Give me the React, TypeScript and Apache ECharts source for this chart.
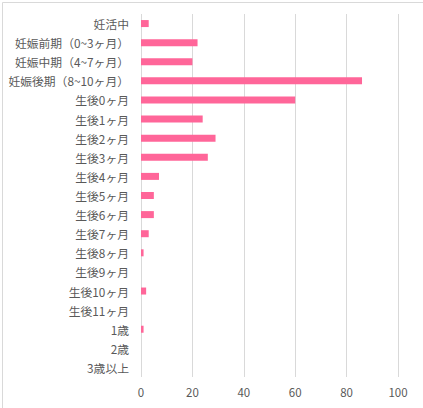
import React, { useEffect, useRef } from "react";
import * as echarts from "echarts";

const categories = [
  "妊活中",
  "妊娠前期（0~3ヶ月）",
  "妊娠中期（4~7ヶ月）",
  "妊娠後期（8~10ヶ月）",
  "生後0ヶ月",
  "生後1ヶ月",
  "生後2ヶ月",
  "生後3ヶ月",
  "生後4ヶ月",
  "生後5ヶ月",
  "生後6ヶ月",
  "生後7ヶ月",
  "生後8ヶ月",
  "生後9ヶ月",
  "生後10ヶ月",
  "生後11ヶ月",
  "1歳",
  "2歳",
  "3歳以上",
];

const values = [3, 22, 20, 86, 60, 24, 29, 26, 7, 5, 5, 3, 1, 0, 2, 0, 1, 0, 0];

const xTicks = { min: 0, max: 100, interval: 20 };

export default function App() {
  const ref = useRef<HTMLDivElement>(null);
  useEffect(() => {
    document.body.style.margin = "0";
    const chart = echarts.init(ref.current!, null, { renderer: "svg" });
    const font = "'Noto Sans CJK JP', 'Noto Sans', sans-serif";
    chart.setOption({
      animation: false,
      backgroundColor: "#ffffff",
      textStyle: { fontFamily: font },
      graphic: [
        {
          type: "rect",
          left: 0,
          top: 0,
          shape: { x: 0.5, y: 0.5, width: 422, height: 407 },
          style: { fill: "none", stroke: "#d9d9d9", lineWidth: 1 },
          silent: true,
        },
      ],
      grid: { left: 141, right: 25, top: 14, bottom: 31, containLabel: false },
      xAxis: {
        type: "value",
        min: xTicks.min,
        max: xTicks.max,
        interval: xTicks.interval,
        axisLine: { show: false },
        axisTick: { show: false },
        splitLine: { show: true, lineStyle: { color: "#d9d9d9", width: 1 } },
        axisLabel: { color: "#595959", fontSize: 11.5, margin: 9, fontFamily: font },
      },
      yAxis: {
        type: "category",
        data: categories,
        inverse: true,
        axisLine: { show: false },
        axisTick: { show: false },
        splitLine: { show: false },
        axisLabel: { color: "#595959", fontSize: 11.8, margin: 12, fontFamily: font },
      },
      series: [
        {
          type: "bar",
          data: values,
          barWidth: 7,
          itemStyle: { color: "#ff6699" },
        },
      ],
    });
    return () => chart.dispose();
  }, []);
  return <div ref={ref} style={{ width: 423, height: 408 }} />;
}
